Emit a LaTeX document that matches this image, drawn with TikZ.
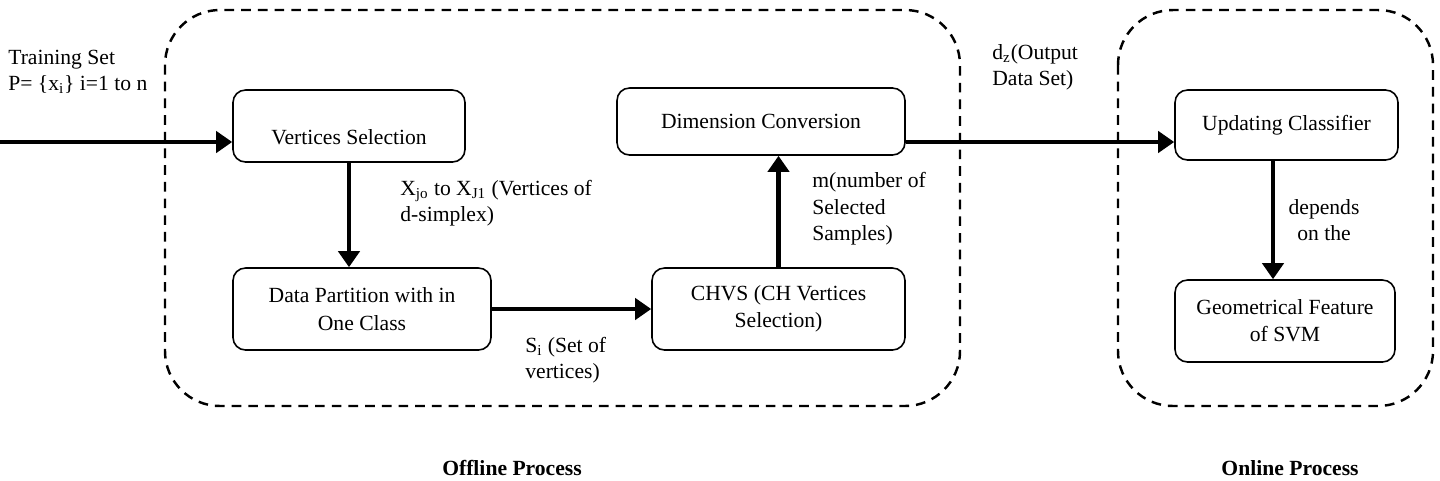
\documentclass[tikz,border=0pt]{standalone}
\usepackage{fontspec}
\setmainfont{Liberation Serif}
\usetikzlibrary{arrows.meta}

\tikzset{
  procbox/.style={draw, line width=0.9pt, rounded corners=0.25cm, align=center,
    font=\fontsize{12.3}{15.5}\selectfont},
  lbl/.style={align=left, inner sep=0pt, font=\fontsize{12.3}{15}\selectfont},
  flow/.style={line width=2.8pt, -{Triangle[length=0.32cm,width=0.42cm]}},
  region/.style={draw, line width=1.4pt, dash pattern=on 5.5pt off 4pt, rounded corners=1.1cm}
}

\begin{document}
\begin{tikzpicture}

\useasboundingbox (0,0) rectangle (28.8,-9.6);

% Dashed regions
\draw[region] (3.3,-0.2) rectangle (19.2,-8.12);
\draw[region] (22.36,-0.2) rectangle (28.66,-8.12);

% Process boxes
\node[procbox, minimum width=4.64cm, minimum height=1.44cm] (vsel) at (6.98,-2.52) {\mbox{}\\[6pt]Vertices Selection};
\node[procbox, minimum width=5.16cm, minimum height=1.64cm] (dpart) at (7.24,-6.18) {Data Partition with in\\One Class};
\node[procbox, minimum width=5.06cm, minimum height=1.64cm] (chvs) at (15.57,-6.18) {CHVS (CH Vertices\\Selection)};
\node[procbox, minimum width=5.76cm, minimum height=1.34cm] (dconv) at (15.22,-2.43) {Dimension Conversion};
\node[procbox, minimum width=4.46cm, minimum height=1.4cm] (upd) at (25.73,-2.5) {Updating Classifier};
\node[procbox, minimum width=4.4cm, minimum height=1.64cm] (geo) at (25.7,-6.42) {Geometrical Feature\\of SVM};

% Input
\coordinate (train) at (0,-2.84);
\node[lbl, anchor=west] (trainlbl) at (0.16,-1.44) {Training Set\\P= \{x\textsubscript{i}\} i=1 to n};

% Flow arrows
\draw[flow] (train) -- (train -| vsel.west);
\draw[flow] (vsel.south) -- (vsel.south |- dpart.north);
\draw[flow] (dpart.east) -- (chvs.west);
\draw[flow] (chvs.north) -- (chvs.north |- dconv.south);
\draw[flow] (dconv.east |- train) -- (upd.west |- train);
\draw[flow] ([xshift=-0.27cm]upd.south) -- ([xshift=-0.27cm]upd.south |- geo.north);

% Arrow labels
\node[lbl, anchor=west] (xlbl) at (8.0,-4.07) {X\textsubscript{jo} to X\textsubscript{J1} (Vertices of\\d-simplex)};
\node[lbl, anchor=west] (slbl) at (10.5,-7.2) {S\textsubscript{i} (Set of\\vertices)};
\node[lbl, anchor=west] (mlbl) at (16.24,-4.18) {m(number of\\Selected\\Samples)};
\node[lbl, anchor=west] (dlbl) at (19.84,-1.35) {d\textsubscript{z}(Output\\Data Set)};
\node[lbl, align=center] (deplbl) at (26.48,-4.4) {depends\\on the};

% Region titles
\node[lbl, font=\fontsize{12.3}{15}\selectfont\bfseries] (offt) at (10.24,-9.36) {Offline Process};
\node[lbl, font=\fontsize{12.3}{15}\selectfont\bfseries] (onnt) at (25.8,-9.36) {Online Process};

\end{tikzpicture}
\end{document}
